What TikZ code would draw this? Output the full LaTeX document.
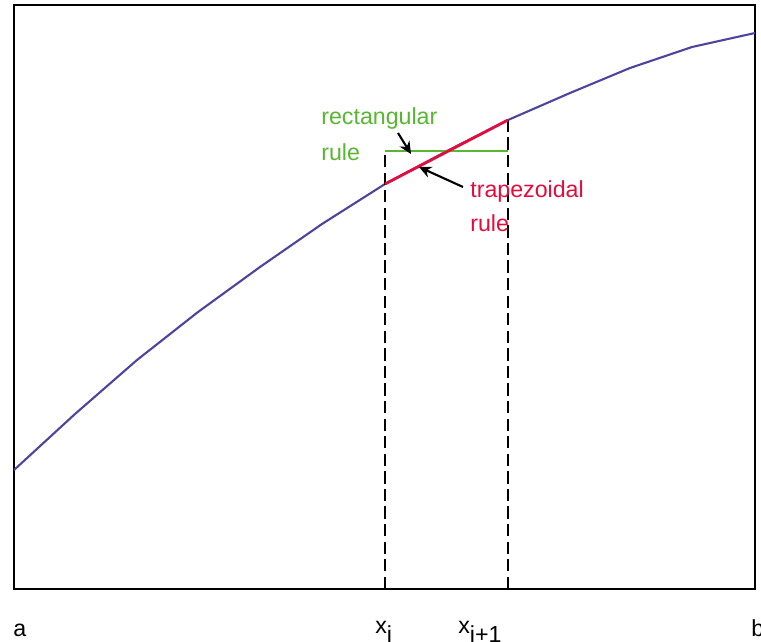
\documentclass[tikz,border=0pt]{standalone}
\usepackage{fontspec}
\setmainfont{Liberation Sans}
\usetikzlibrary{arrows.meta, positioning}
\definecolor{curveblue}{RGB}{78,68,158}
\definecolor{rectgreen}{RGB}{88,182,48}
\definecolor{trapred}{RGB}{228,12,62}
\tikzset{
  frame/.style={draw=black, line width=1.6pt},
  fcurve/.style={draw=curveblue, line width=1.2pt, line join=round},
  guide/.style={draw=black, line width=0.8pt, dash pattern=on 7pt off 3pt},
  rectline/.style={draw=rectgreen, line width=1.4pt},
  trapline/.style={draw=trapred, line width=1.6pt},
  pointer/.style={-{Stealth[length=7pt, width=6.5pt]}, line width=1.2pt},
  axislbl/.style={font=\fontsize{13.2}{15}\selectfont, inner sep=0pt, anchor=base west},
  rulelbl/.style={font=\fontsize{13.2}{15}\selectfont, inner sep=0pt, anchor=base west},
}

\begin{document}
\begin{tikzpicture}[x=0.02cm, y=-0.02cm]
  \useasboundingbox (0,0) rectangle (761,642);

  % Frame
  \coordinate (tl) at (14,5);
  \coordinate (br) at (755,589);
  \draw[frame] (tl) rectangle (br);

  % Function curve
  \draw[fcurve] (14,470) -- (75,414) -- (137,360) -- (198,312) -- (260,267)
    -- (322,224) -- (385,184) -- (447,151) -- (508,120) -- (570,93)
    -- (630,68) -- (692,47) -- (755,33);

  % Strip points
  \coordinate (xib)  at (385,589);
  \coordinate (xit)  at (385,151);
  \coordinate (xjb)  at (508,589);
  \coordinate (xjt)  at (508,120);
  \coordinate (fi)   at (385,184);
  \coordinate (rend) at (508,151);

  % Dashed guides
  \draw[guide] (xib) -- (xit);
  \draw[guide, line width=1.1pt] (xjb) -- (xjt);

  % Rectangular and trapezoidal tops
  \draw[rectline] (xit) -- (rend);
  \draw[trapline] (fi) -- (xjt);

  % Rule labels
  \node[rulelbl, text=rectgreen] (rectA) at (321,125) {rectangular};
  \node[rulelbl, text=rectgreen] (rectB) at (321,160) {rule};
  \node[rulelbl, text=trapred]   (trapA) at (470,197) {trapezoidal};
  \node[rulelbl, text=trapred]   (trapB) at (470,232) {rule};

  % Pointers
  \coordinate (rtail) at (398,133);
  \coordinate (rhead) at (411,154);
  \coordinate (ttail) at (463,187);
  \coordinate (thead) at (419,167);
  \draw[pointer] (rtail) -- (rhead);
  \draw[pointer] (ttail) -- (thead);

  % Axis labels
  \node[axislbl] (la) at (13,636) {a};
  \node[axislbl] (lxi) at (375,633) {x\raisebox{-0.75ex}{i}};
  \node[axislbl] (lxj) at (458,633) {x\raisebox{-0.75ex}{i+1}};
  \node[axislbl] (lb) at (751,636) {b};

\end{tikzpicture}
\end{document}
